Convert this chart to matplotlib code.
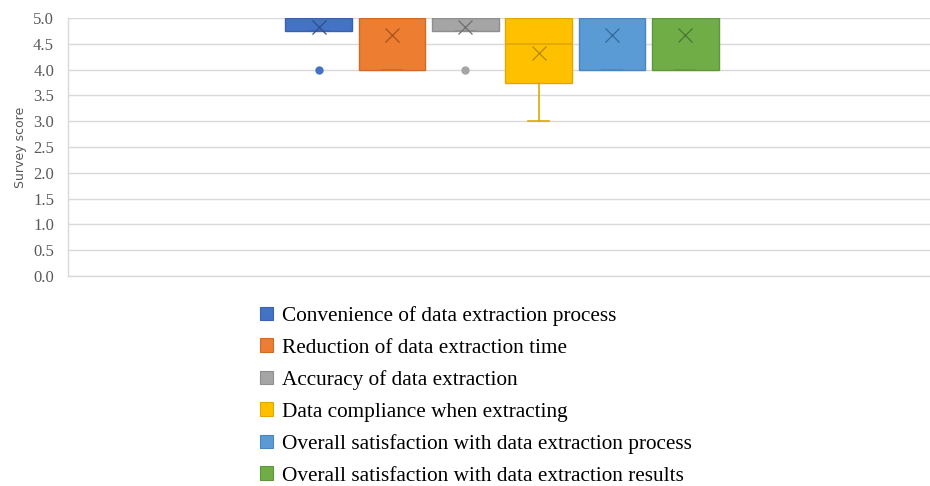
import matplotlib
matplotlib.use("Agg")
import matplotlib.pyplot as plt
from matplotlib.patches import Patch

# Survey items and their box-plot statistics (scores on a 0-5 scale)
items = [
    "Convenience of data extraction process",
    "Reduction of data extraction time",
    "Accuracy of data extraction",
    "Data compliance when extracting",
    "Overall satisfaction with data extraction process",
    "Overall satisfaction with data extraction results",
]
q1_values = [4.75, 4.0, 4.75, 3.75, 4.0, 4.0]
median_values = [5.0, 5.0, 5.0, 4.5, 5.0, 5.0]
q3_values = [5.0, 5.0, 5.0, 5.0, 5.0, 5.0]
mean_values = [4.83, 4.67, 4.83, 4.33, 4.67, 4.67]
whisker_low = [4.75, 4.0, 4.75, 3.0, 4.0, 4.0]
whisker_high = [5.0, 5.0, 5.0, 5.0, 5.0, 5.0]
outliers = [[4.0], [], [4.0], [], [], []]

fill_colors = ["#4472C4", "#ED7D31", "#A5A5A5", "#FFC000", "#5B9BD5", "#70AD47"]
edge_colors = ["#3A63AD", "#D06A26", "#8E8E8E", "#E0A800", "#4A86BE", "#5F963B"]
mark_colors = ["#2F4F8A", "#A5531C", "#6E6E6E", "#B38A00", "#35689A", "#4A7530"]

fig = plt.figure(figsize=(9.3, 4.86), dpi=100)
ax = fig.add_axes([68 / 930, 1 - 276 / 486, 1 - 68 / 930, (276 - 18) / 486])

for i in range(len(items)):
    stats = [{
        "q1": q1_values[i], "med": median_values[i], "q3": q3_values[i],
        "mean": mean_values[i], "whislo": whisker_low[i], "whishi": whisker_high[i],
        "fliers": outliers[i], "label": items[i],
    }]
    ax.bxp(
        stats, positions=[i + 1], widths=0.91, patch_artist=True,
        showmeans=True, showfliers=True, manage_ticks=False,
        boxprops=dict(facecolor=fill_colors[i], edgecolor=edge_colors[i], linewidth=1.0),
        medianprops=dict(color=edge_colors[i], linewidth=1.2),
        whiskerprops=dict(color=edge_colors[i], linewidth=1.2),
        capprops=dict(color=edge_colors[i], linewidth=1.2),
        capwidths=0.28,
        meanprops=dict(marker="x", markersize=10, markeredgewidth=0.9,
                       markeredgecolor=mark_colors[i], linestyle="none"),
        flierprops=dict(marker="o", markersize=5, markerfacecolor=fill_colors[i],
                        markeredgecolor=fill_colors[i]),
    )

ax.set_xlim(-2.42, 9.34)
ax.set_ylim(0, 5)
ax.set_yticks([i * 0.5 for i in range(11)])
ax.set_yticklabels([f"{i * 0.5:.1f}" for i in range(11)],
                   fontfamily="Liberation Serif", fontsize=12, color="#595959")
ax.tick_params(axis="y", length=0, pad=10)
ax.set_xticks([])
ax.grid(axis="y", color="#D9D9D9", linewidth=1.0, zorder=0)
ax.set_axisbelow(True)
for side in ("top", "right"):
    ax.spines[side].set_visible(False)
for side in ("left", "bottom"):
    ax.spines[side].set_color("#D9D9D9")
    ax.spines[side].set_linewidth(1.0)

ax.set_ylabel("Survey score", fontsize=9, color="#595959", fontfamily="DejaVu Sans")
ax.yaxis.set_label_coords(-0.048, 0.5)

handles = [Patch(facecolor=c, edgecolor=e, linewidth=0.8) for c, e in zip(fill_colors, edge_colors)]
fig.legend(
    handles, items, loc="upper left", bbox_to_anchor=(260 / 930, 1 - 306 / 486),
    frameon=False, prop=dict(family="Liberation Serif", size=15.3),
    handlelength=0.61, handleheight=0.61, handletextpad=0.42, labelspacing=0.585,
    borderaxespad=0, borderpad=0,
)

fig.savefig("out.png", dpi=100)
